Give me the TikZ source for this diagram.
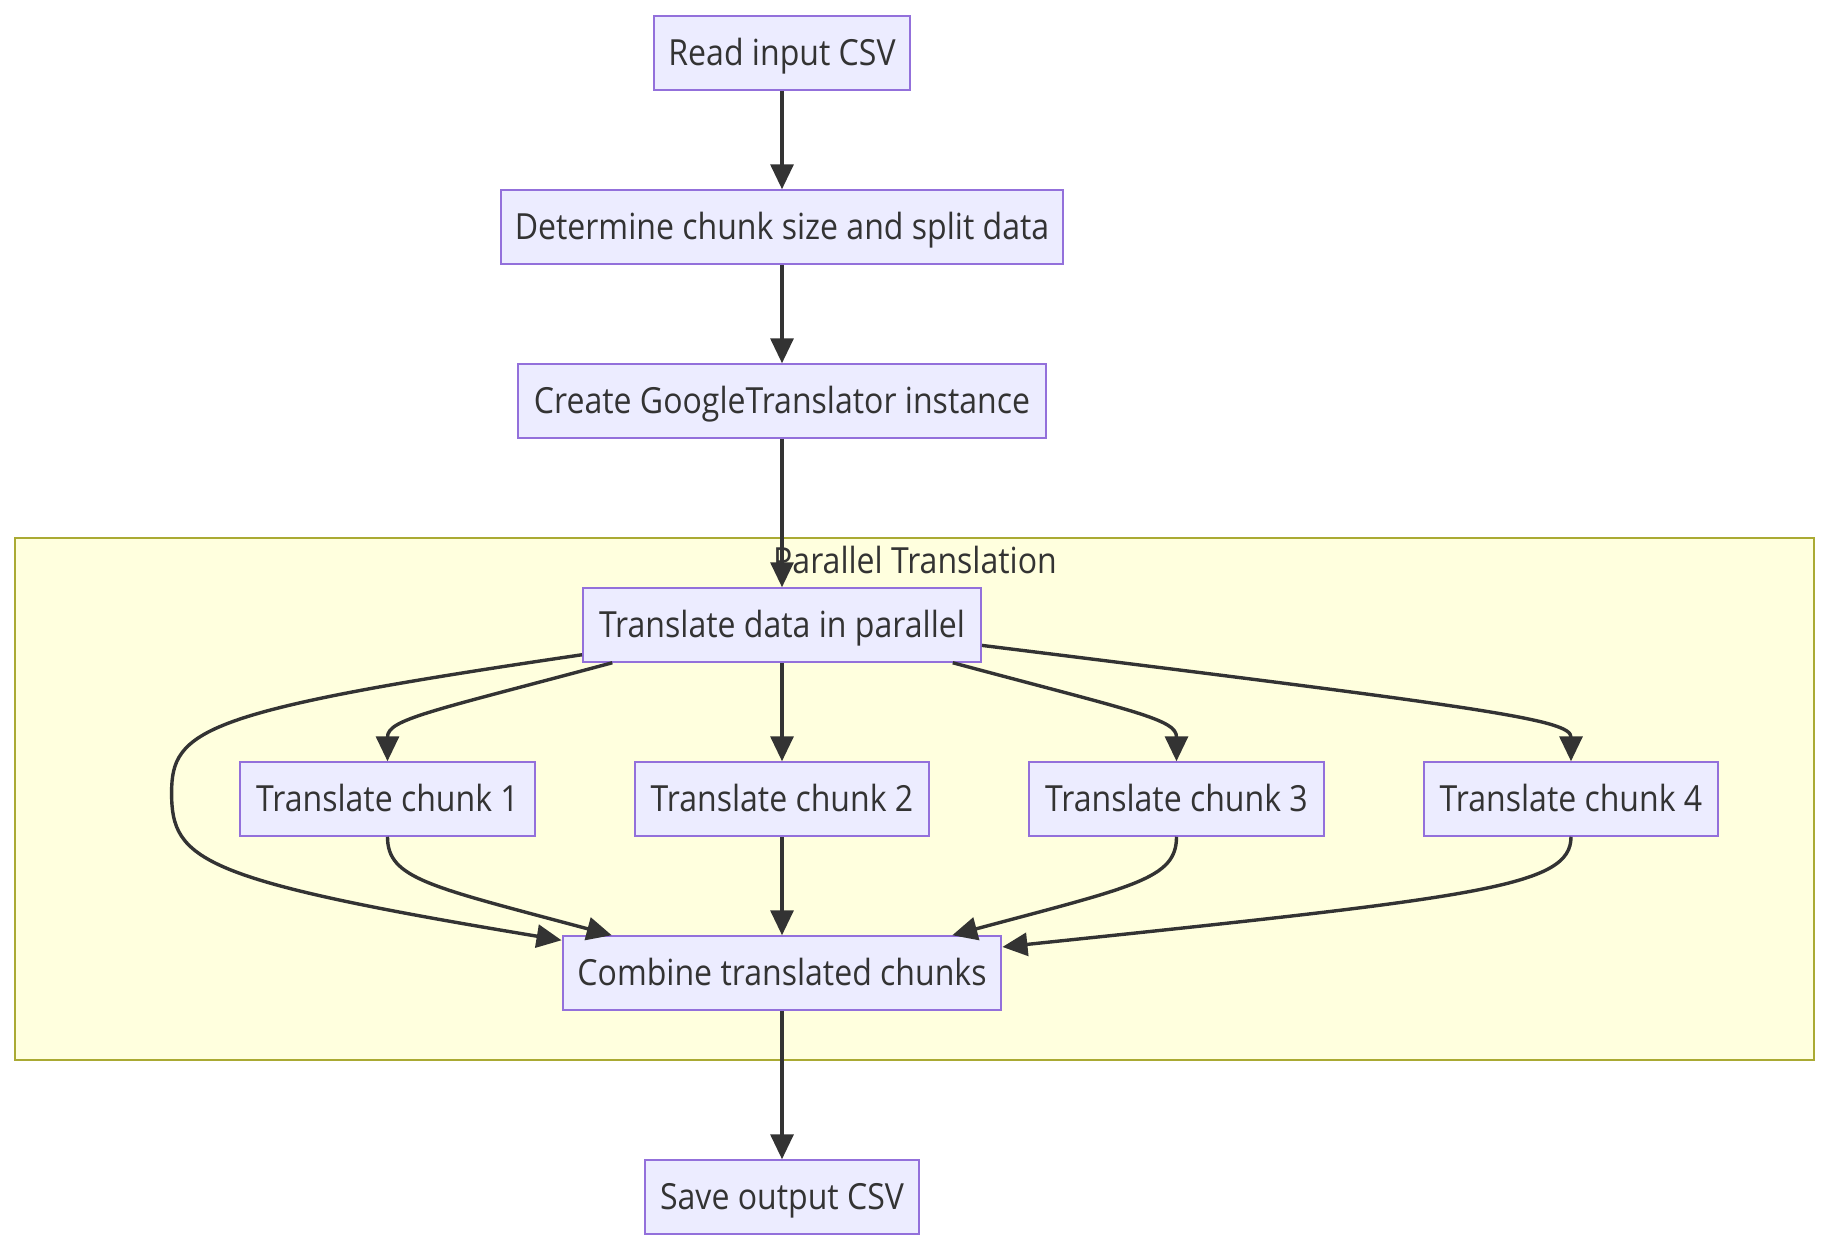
\documentclass[tikz,border=0pt]{standalone}
\usepackage{fontspec}
\setmainfont{Open Sans}[FakeStretch=0.89]
\usetikzlibrary{arrows.meta,positioning,calc}

\definecolor{boxfill}{HTML}{ECECFF}
\definecolor{boxline}{HTML}{9370DB}
\definecolor{groupfill}{HTML}{FFFFDE}
\definecolor{groupline}{HTML}{AAAA33}
\definecolor{inkgray}{HTML}{333333}

\begin{document}
\begin{tikzpicture}[x=1pt, y=-1pt,
  stepbox/.style={rectangle, draw=boxline, fill=boxfill, line width=2pt, minimum height=73.5pt, inner sep=0pt, text height=30pt, text depth=5.6pt, text=inkgray, font=\fontsize{36}{43}\selectfont},
  flow/.style={draw=inkgray, line width=3.4pt, -{Triangle[length=25pt,width=23pt]}},
]
\useasboundingbox (0,0) rectangle (1830,1250);

% Subgraph
\node[draw=groupline, fill=groupfill, line width=2pt, minimum width=1798.5pt, minimum height=521.7pt, inner sep=0pt] (group) at (914.45,798.85) {};
\node[text=inkgray, text height=30pt, text depth=5.6pt, font=\fontsize{36}{43}\selectfont] (grouplabel) at (915,561) {Parallel Translation};

% Nodes
\node[stepbox, minimum width=256.8pt] (read) at (782,53) {Read input CSV};
\node[stepbox, minimum width=562.5pt] (split) at (782,227) {Determine chunk size and split data};
\node[stepbox, minimum width=527.5pt] (create) at (782,401) {Create GoogleTranslator instance};
\node[stepbox, minimum width=398pt] (par) at (782,625) {Translate data in parallel};
\node[stepbox, minimum width=294.1pt] (c1) at (387.5,799) {Translate chunk 1};
\node[stepbox, minimum width=294.1pt] (c2) at (782,799) {Translate chunk 2};
\node[stepbox, minimum width=294.1pt] (c3) at (1176.5,799) {Translate chunk 3};
\node[stepbox, minimum width=294.1pt] (c4) at (1571,799) {Translate chunk 4};
\node[stepbox, minimum width=438.9pt] (comb) at (782,973) {Combine translated chunks};
\node[stepbox, minimum width=273.1pt] (save) at (782,1197) {Save output CSV};
\coordinate (loopleft) at (171.6,793);

% Lines
\draw[flow] (read) -- (split);
\draw[flow] (split) -- (create);
\draw[flow] (create) -- (par);
\draw[flow] ([yshift=8pt]par.south west) .. controls +(-382,56) and +(0,-63) .. (loopleft)
  .. controls +(0,67) and +(-362,-60) .. ([yshift=-5pt]comb.north west);
\draw[flow] ([xshift=30.3pt]par.south west) .. controls +(-182.7,49) and +(0,-42) .. (c1.north);
\draw[flow] (par) -- (c2);
\draw[flow] ([xshift=-29.2pt]par.south east) .. controls +(182.7,49) and +(0,-42) .. (c3.north);
\draw[flow] ([yshift=-20.4pt]par.east) .. controls +(500,62) and +(0,-42) .. (c4.north);
\draw[flow] (c1.south) .. controls +(0,42) and +(-182.7,-49) .. ([xshift=50.2pt]comb.north west);
\draw[flow] (c2) -- (comb);
\draw[flow] (c3.south) .. controls +(0,42) and +(182.7,-49) .. ([xshift=-50.2pt]comb.north east);
\draw[flow] (c4.south) .. controls +(0,50) and +(479,-50) .. ([yshift=-11.7pt]comb.north east);
\draw[flow] (comb) -- (save);

\end{tikzpicture}
\end{document}
